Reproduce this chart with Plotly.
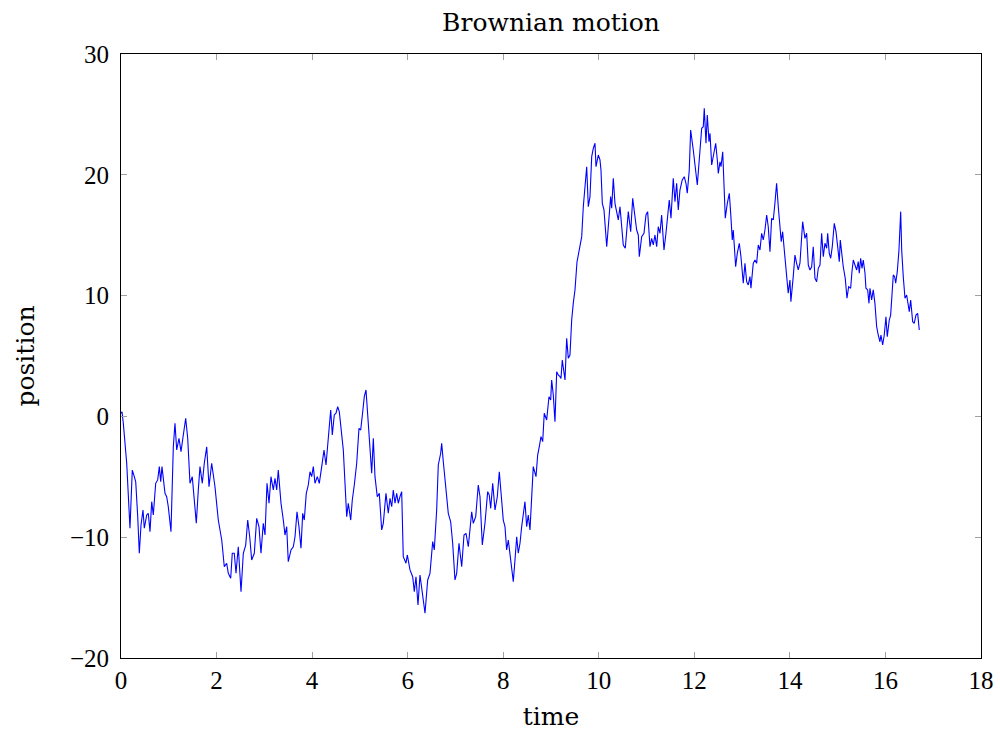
import plotly.graph_objects as go

time = [0, 0.021, 0.048, 0.069, 0.119, 0.188, 0.236, 0.278, 0.308, 0.350, 0.383, 0.419, 0.460, 0.488, 0.538, 0.571, 0.607, 0.643, 0.676, 0.726,
        0.768, 0.802, 0.831, 0.858, 0.921, 0.956, 0.990, 1.046, 1.095, 1.130, 1.166, 1.214, 1.256, 1.304, 1.354, 1.396, 1.444, 1.492, 1.549, 1.576,
        1.618, 1.653, 1.702, 1.743, 1.794, 1.842, 1.898, 1.967, 2.036, 2.108, 2.162, 2.212, 2.246, 2.296, 2.329, 2.371, 2.407, 2.455, 2.512, 2.560,
        2.610, 2.652, 2.694, 2.735, 2.790, 2.840, 2.888, 2.930, 2.978, 3.014, 3.056, 3.098, 3.139, 3.188, 3.223, 3.259, 3.292, 3.349, 3.397, 3.432,
        3.468, 3.501, 3.558, 3.606, 3.642, 3.684, 3.725, 3.767, 3.803, 3.836, 3.878, 3.920, 3.956, 3.991, 4.025, 4.060, 4.109, 4.150, 4.201, 4.249,
        4.291, 4.339, 4.389, 4.423, 4.464, 4.500, 4.535, 4.569, 4.605, 4.653, 4.724, 4.757, 4.808, 4.841, 4.883, 4.933, 4.981, 5.017, 5.059, 5.092,
        5.128, 5.176, 5.226, 5.247, 5.281, 5.316, 5.364, 5.406, 5.456, 5.490, 5.546, 5.594, 5.630, 5.666, 5.699, 5.735, 5.770, 5.804, 5.839, 5.875,
        5.908, 5.965, 5.992, 6.049, 6.105, 6.139, 6.174, 6.216, 6.258, 6.293, 6.363, 6.419, 6.467, 6.524, 6.557, 6.607, 6.641, 6.691, 6.712, 6.746,
        6.796, 6.850, 6.900, 6.942, 6.990, 7.026, 7.074, 7.131, 7.179, 7.221, 7.269, 7.340, 7.373, 7.424, 7.478, 7.514, 7.562, 7.618, 7.675, 7.708,
        7.738, 7.780, 7.828, 7.876, 7.918, 7.968, 8.001, 8.037, 8.072, 8.106, 8.142, 8.177, 8.211, 8.246, 8.282, 8.315, 8.351, 8.386, 8.420, 8.455,
        8.491, 8.524, 8.560, 8.595, 8.629, 8.686, 8.721, 8.755, 8.790, 8.826, 8.859, 8.909, 8.958, 8.993, 9.014, 9.048, 9.083, 9.119, 9.152, 9.188,
        9.209, 9.236, 9.293, 9.328, 9.362, 9.397, 9.433, 9.466, 9.502, 9.544, 9.607, 9.643, 9.676, 9.711, 9.747, 9.781, 9.816, 9.852, 9.885, 9.921,
        9.942, 9.990, 10.025, 10.046, 10.074, 10.109, 10.145, 10.166, 10.199, 10.249, 10.270, 10.304, 10.339, 10.375, 10.408, 10.444, 10.479, 10.513, 10.555, 10.584,
        10.618, 10.668, 10.710, 10.758, 10.793, 10.827, 10.848, 10.898, 10.946, 10.988, 11.023, 11.044, 11.072, 11.107, 11.141, 11.176, 11.212, 11.245, 11.281, 11.316,
        11.365, 11.406, 11.442, 11.475, 11.511, 11.559, 11.595, 11.630, 11.664, 11.699, 11.747, 11.789, 11.825, 11.852, 11.894, 11.923, 11.978, 12.034, 12.062, 12.103,
        12.154, 12.187, 12.208, 12.244, 12.271, 12.307, 12.328, 12.363, 12.384, 12.418, 12.447, 12.481, 12.502, 12.537, 12.558, 12.594, 12.621, 12.648, 12.690, 12.732,
        12.761, 12.794, 12.815, 12.865, 12.899, 12.941, 12.976, 13.024, 13.060, 13.095, 13.129, 13.164, 13.185, 13.233, 13.269, 13.304, 13.338, 13.374, 13.409, 13.443,
        13.478, 13.514, 13.547, 13.583, 13.618, 13.652, 13.687, 13.722, 13.757, 13.792, 13.819, 13.848, 13.896, 13.932, 13.965, 14.001, 14.021, 14.070, 14.106, 14.141,
        14.175, 14.211, 14.267, 14.315, 14.351, 14.385, 14.420, 14.456, 14.489, 14.525, 14.560, 14.594, 14.630, 14.665, 14.699, 14.734, 14.770, 14.791, 14.824, 14.854,
        14.887, 14.929, 14.965, 15.000, 15.034, 15.055, 15.090, 15.117, 15.159, 15.195, 15.230, 15.272, 15.299, 15.327, 15.362, 15.398, 15.431, 15.452, 15.481, 15.509,
        15.536, 15.572, 15.592, 15.628, 15.655, 15.676, 15.711, 15.745, 15.780, 15.816, 15.849, 15.885, 15.906, 15.942, 15.975, 16.011, 16.038, 16.080, 16.109, 16.137,
        16.164, 16.193, 16.214, 16.248, 16.283, 16.319, 16.340, 16.373, 16.409, 16.444, 16.478, 16.499, 16.528, 16.570, 16.603, 16.639, 16.674, 16.708]

position = [0.26, 0.39, -0.55, -1.40, -3.86, -9.26, -4.44, -4.99, -5.41, -8.30, -11.33, -8.99, -7.75, -9.26, -8.16, -8.02, -9.54, -7.06, -8.16, -5.54,
            -5.26, -4.16, -5.41, -4.16, -6.37, -6.65, -7.48, -9.54, -2.51, -0.57, -2.78, -1.81, -2.92, -1.54, -0.16, -1.81, -5.54, -4.99, -8.02, -8.85,
            -6.09, -4.16, -5.54, -3.88, -2.51, -5.82, -3.88, -5.82, -8.58, -10.23, -12.44, -12.16, -12.99, -13.40, -11.33, -11.33, -12.99, -10.79, -14.51, -11.33,
            -10.65, -8.58, -9.96, -11.89, -11.33, -8.44, -9.13, -11.33, -8.85, -9.82, -5.54, -7.19, -4.99, -6.09, -5.12, -6.09, -4.44, -7.19, -8.58, -9.82,
            -9.13, -12.03, -11.06, -10.79, -9.96, -7.89, -9.13, -10.92, -8.02, -8.58, -6.37, -5.68, -4.58, -4.99, -4.16, -5.54, -4.99, -5.54, -4.16, -2.78,
            -4.02, -2.09, 0.53, -1.54, 0.12, 0.26, 0.80, 0.39, -1.13, -2.78, -8.30, -7.19, -8.58, -6.92, -5.68, -3.88, -0.99, -1.13, 0.39, 1.63,
            2.19, -0.30, -3.05, -4.71, -1.81, -4.99, -6.65, -6.37, -9.40, -8.85, -6.37, -8.02, -6.78, -7.48, -6.09, -7.19, -6.37, -7.19, -6.65, -6.23,
            -11.61, -12.16, -11.47, -12.71, -13.27, -14.51, -13.27, -15.61, -13.13, -14.23, -16.30, -13.54, -12.99, -10.37, -11.06, -7.75, -4.02, -3.05, -2.23, -3.75,
            -5.95, -8.02, -8.72, -10.50, -13.54, -12.99, -10.50, -12.44, -9.82, -9.68, -10.79, -7.89, -8.85, -8.30, -5.68, -6.65, -10.65, -8.85, -6.23, -6.51,
            -7.61, -5.54, -7.75, -6.65, -4.58, -6.92, -8.58, -9.13, -11.06, -10.23, -11.33, -12.71, -13.68, -11.89, -9.96, -11.33, -10.50, -9.13, -8.02, -7.06,
            -9.13, -8.16, -9.40, -6.51, -4.16, -4.99, -3.20, -2.51, -1.68, -2.09, 0.26, -0.30, 1.63, 1.36, 3.01, 1.77, -0.44, 3.70, 3.43, 3.29,
            3.15, 4.67, 3.01, 6.47, 4.81, 5.08, 7.98, 9.36, 10.46, 12.78, 14.33, 14.88, 17.36, 18.74, 20.67, 17.36, 18.19, 21.50, 22.19, 22.61,
            20.67, 21.64, 21.23, 20.40, 17.64, 17.09, 15.43, 14.05, 15.70, 18.19, 17.23, 19.71, 17.64, 16.95, 16.26, 17.36, 15.98, 14.19, 13.92, 15.43,
            16.95, 15.29, 18.05, 16.53, 15.43, 15.02, 13.22, 14.88, 15.16, 16.67, 16.95, 15.70, 14.05, 14.74, 14.19, 15.02, 14.05, 15.70, 15.16, 16.67,
            13.77, 15.16, 16.81, 17.91, 16.40, 19.71, 17.77, 19.30, 17.09, 18.74, 19.57, 19.84, 19.30, 18.47, 20.40, 23.71, 22.05, 20.12, 19.16, 21.23,
            23.85, 23.98, 25.50, 22.61, 24.95, 22.74, 23.44, 20.81, 21.23, 21.91, 22.61, 21.23, 20.12, 21.08, 20.67, 21.91, 18.74, 16.40, 17.64, 18.47,
            16.81, 14.61, 15.43, 12.39, 13.50, 14.33, 13.22, 11.02, 12.67, 11.15, 10.88, 11.57, 10.61, 12.67, 12.95, 12.67, 14.19, 13.77, 15.16, 14.61,
            15.43, 16.67, 15.70, 13.63, 16.40, 16.26, 17.64, 19.30, 17.36, 15.70, 14.46, 15.29, 13.22, 11.84, 10.19, 11.29, 9.49, 11.57, 13.36, 12.67,
            12.12, 12.70, 16.12, 14.74, 15.16, 12.53, 12.12, 12.39, 14.05, 11.43, 11.15, 12.26, 12.53, 15.16, 13.22, 14.33, 13.92, 15.16, 13.50, 13.09,
            14.05, 15.98, 15.29, 14.05, 12.81, 14.60, 13.22, 12.39, 11.43, 9.78, 10.74, 10.61, 11.98, 12.95, 12.53, 12.12, 12.81, 11.85, 13.09, 12.26,
            12.95, 11.85, 10.61, 10.47, 9.36, 10.61, 9.64, 10.47, 9.36, 7.43, 6.74, 6.18, 6.74, 5.91, 6.74, 8.25, 6.60, 7.98, 8.39, 10.19,
            11.71, 11.56, 11.02, 11.98, 13.77, 16.95, 13.77, 11.56, 9.78, 10.05, 9.36, 8.67, 9.64, 7.84, 7.71, 8.39, 8.53, 7.15]

x_ticks = [0, 2, 4, 6, 8, 10, 12, 14, 16, 18]
y_ticks = [-20, -10, 0, 10, 20, 30]

TITLE_FONT = "DejaVu Serif, Liberation Serif, serif"
TICK_FONT = "Liberation Serif, DejaVu Serif, serif"

fig = go.Figure()
fig.add_trace(go.Scatter(x=time, y=position, mode="lines",
                         line=dict(color="#0000ff", width=1.1), showlegend=False))

axis_common = dict(showgrid=False, zeroline=False, showline=True, linecolor="black", linewidth=1,
                   mirror="allticks", ticks="inside", ticklen=6, tickcolor="#a0a0a0", tickwidth=1,
                   automargin=False,
                   tickfont=dict(family=TICK_FONT, size=25, color="black"))

fig.update_layout(
    width=1000, height=735,
    margin=dict(l=121, r=19, t=54, b=77, autoexpand=False),
    paper_bgcolor="white", plot_bgcolor="white",
    title=dict(text="Brownian motion", x=0.551, xanchor="center", y=0.982, yanchor="top",
               font=dict(family=TITLE_FONT, size=25, color="black")),
    xaxis=dict(range=[0, 18], tickvals=x_ticks,
               title=dict(text="time", font=dict(family=TITLE_FONT, size=25, color="black"),
                          standoff=14),
               **axis_common),
    yaxis=dict(range=[-20, 30], tickvals=y_ticks, ticklabelstandoff=6,
               title=dict(text="position", font=dict(family=TITLE_FONT, size=25, color="black"),
                          standoff=28),
               **axis_common),
)

fig.write_html("out.html")
